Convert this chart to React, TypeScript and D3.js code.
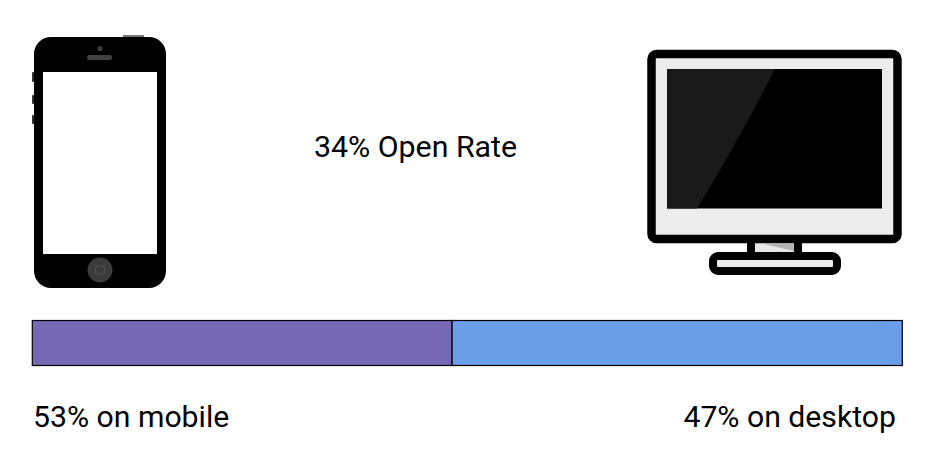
import React from "react";
import * as d3 from "d3";

const segments = ["mobile", "desktop"];
// Segment shares as drawn in the picture (the divider does not sit at 53%)
const drawnShares = [48.25, 51.75];
const segmentColors = ["#7768b6", "#6b9ee9"];
const labels = ["53% on mobile", "47% on desktop"];
const title = "34% Open Rate";

const x = d3.scaleLinear().domain([0, 100]).range([32.3, 902.3]);
const cumulative = d3.cumsum(drawnShares);

function Phone() {
  return (
    <g>
      <rect x={123} y={35} width={21} height={4} fill="#777" />
      <rect x={32} y={72} width={4} height={10} rx={1} fill="#333" />
      <rect x={32} y={95} width={4} height={9} rx={1} fill="#333" />
      <rect x={32} y={115} width={4} height={9} rx={1} fill="#333" />
      <rect x={34} y={37} width={132} height={251} rx={17} fill="#000" />
      <rect x={43} y={72} width={114} height={182} fill="#fff" />
      <circle cx={100} cy={48.5} r={2.6} fill="#3d3d3d" />
      <rect x={87} y={55} width={25} height={5} rx={2.5} fill="#404040" />
      <circle cx={100} cy={270} r={12.5} fill="#3b3b3b" />
      <rect x={95.5} y={266} width={9} height={8} rx={2} fill="none" stroke="#777" strokeWidth={0.8} strokeDasharray="1 1" />
    </g>
  );
}

function Monitor() {
  return (
    <g>
      <rect x={751} y={239} width={47} height={17} fill="#e6e6e6" stroke="#000" strokeWidth={8} />
      <path d="M764 244 L794 251 L794 244 Z" fill="#b3b3b3" />
      <rect x={713} y={256} width={124} height={15} rx={5} fill="#ececec" stroke="#000" strokeWidth={8} />
      <rect x={651.5} y={54} width={246} height={185} rx={5} fill="#ececec" stroke="#000" strokeWidth={8.5} />
      <rect x={667} y={69} width={215} height={139.5} fill="#000" />
      <path d="M667 69 L775 69 Q736 145 697 208.5 L667 208.5 Z" fill="#1a1a1a" />
    </g>
  );
}

export default function App() {
  const font = "Roboto, sans-serif";
  return (
    <svg
      width={932}
      height={469}
      viewBox="0 0 932 469"
      style={{ position: "absolute", left: 0, top: 0, background: "#fff" }}
    >
      <Phone />
      <Monitor />
      <text x={415.5} y={157} textAnchor="middle" fontFamily={font} fontSize={30.3} fill="#000">
        {title}
      </text>
      {segments.map((s, i) => {
        const x0 = x(i === 0 ? 0 : cumulative[i - 1]);
        const x1 = x(cumulative[i]);
        return (
          <rect
            key={s}
            x={x0}
            y={320.5}
            width={x1 - x0}
            height={45}
            fill={segmentColors[i]}
            stroke="#000"
            strokeWidth={1.2}
          />
        );
      })}
      <text x={33} y={427} fontFamily={font} fontSize={30.2} fill="#000">
        {labels[0]}
      </text>
      <text x={896} y={427} textAnchor="end" fontFamily={font} fontSize={30.2} fill="#000">
        {labels[1]}
      </text>
    </svg>
  );
}
